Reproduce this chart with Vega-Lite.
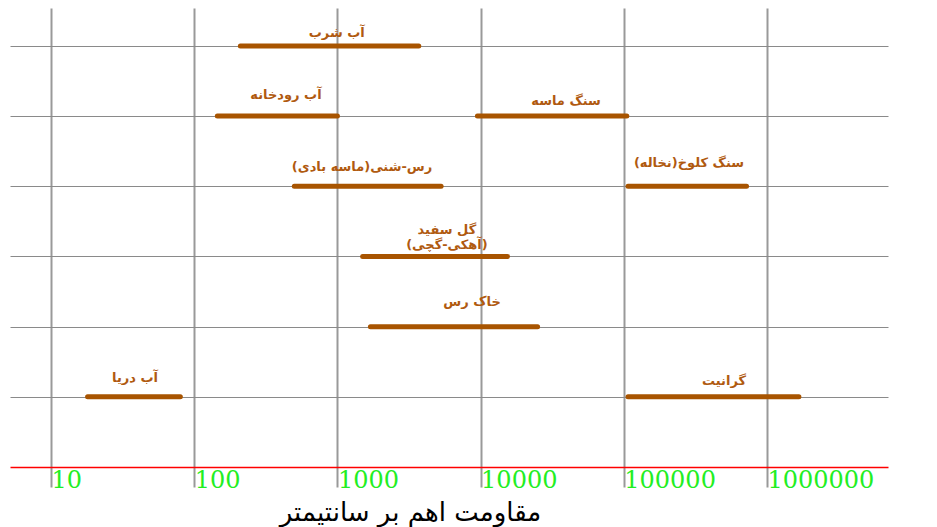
{
  "$schema": "https://vega.github.io/schema/vega-lite/v6.json",
  "width": 878,
  "height": 459,
  "autosize": "none",
  "padding": {"left": 10, "top": 8, "right": 49, "bottom": 60},
  "background": "white",
  "config": {"view": {"stroke": null}},
  "datasets": {
    "bars": [
      {"material": "آب شرب", "row": 6, "lo": 210, "hi": 3700},
      {"material": "آب رودخانه", "row": 5, "lo": 145, "hi": 1000},
      {"material": "سنگ ماسه", "row": 5, "lo": 9500, "hi": 105000},
      {"material": "رس-شنی(ماسه بادی)", "row": 4, "lo": 500, "hi": 5300},
      {"material": "سنگ کلوخ(نخاله)", "row": 4, "lo": 107000, "hi": 720000},
      {"material": "گل سفید (آهکی-گچی)", "row": 3, "lo": 1500, "hi": 15400},
      {"material": "خاک رس", "row": 2, "lo": 1700, "hi": 25000},
      {"material": "آب دریا", "row": 1, "lo": 18, "hi": 80},
      {"material": "گرانیت", "row": 1, "lo": 107000, "hi": 1670000}
    ],
    "labels": [
      {"label": "آب شرب", "lx": 990, "ly": 6.18},
      {"label": "آب رودخانه", "lx": 437, "ly": 5.30},
      {"label": "سنگ ماسه", "lx": 39500, "ly": 5.22},
      {"label": "رس-شنی(ماسه بادی)", "lx": 1486, "ly": 4.27},
      {"label": "سنگ کلوخ(نخاله)", "lx": 285000, "ly": 4.33},
      {"label": "گل سفید\n(آهکی-گچی)", "lx": 5820, "ly": 3.38},
      {"label": "خاک رس", "lx": 8710, "ly": 2.35},
      {"label": "آب دریا", "lx": 38.6, "ly": 1.27},
      {"label": "گرانیت", "lx": 501000, "ly": 1.23}
    ]
  },
  "layer": [
    {
      "data": {"name": "bars"},
      "mark": {"type": "rule", "strokeWidth": 5, "strokeCap": "round", "color": "#a85400"},
      "encoding": {
        "x": {
          "field": "lo",
          "type": "quantitative",
          "scale": {"type": "log", "domain": [5.17, 7000000], "nice": false, "clamp": false},
          "axis": {
            "values": [10, 100, 1000, 10000, 100000, 1000000],
            "format": "d",
            "grid": true,
            "gridColor": "#999999",
            "gridWidth": 2,
            "domainColor": "#ff0000",
            "domainWidth": 1.5,
            "tickColor": "#999999",
            "tickWidth": 2,
            "tickSize": 20,
            "labelColor": "#22ee22",
            "labelFont": "DejaVu Serif",
            "labelFontSize": 24,
            "labelAlign": "left",
            "labelBaseline": "top",
            "labelPadding": -19,
            "labelDx": 2,
            "labelOverlap": false,
            "labelBound": false,
            "labelFlush": false,
            "title": "مقاومت اهم بر سانتیمتر",
            "titleFont": "DejaVu Sans",
            "titleFontSize": 26,
            "titleFontWeight": "normal",
            "titleColor": "#000000",
            "titleX": 400,
            "titleY": 45,
            "titleAlign": "center",
            "titleBaseline": "middle"
          }
        },
        "x2": {"field": "hi"},
        "y": {
          "field": "row",
          "type": "quantitative",
          "scale": {"domain": [0, 6.54], "nice": false, "zero": false},
          "axis": {
            "values": [1, 2, 3, 4, 5, 6],
            "grid": true,
            "gridColor": "#8a8a8a",
            "gridWidth": 1,
            "labels": false,
            "ticks": false,
            "domain": false,
            "title": null
          }
        }
      }
    },
    {
      "data": {"name": "labels"},
      "mark": {
        "type": "text",
        "font": "DejaVu Sans",
        "fontSize": 13,
        "fontWeight": "bold",
        "color": "#b05a10",
        "align": "center",
        "baseline": "middle",
        "lineBreak": "\n",
        "lineHeight": 15
      },
      "encoding": {
        "x": {"field": "lx", "type": "quantitative"},
        "y": {"field": "ly", "type": "quantitative"},
        "text": {"field": "label"}
      }
    }
  ]
}
